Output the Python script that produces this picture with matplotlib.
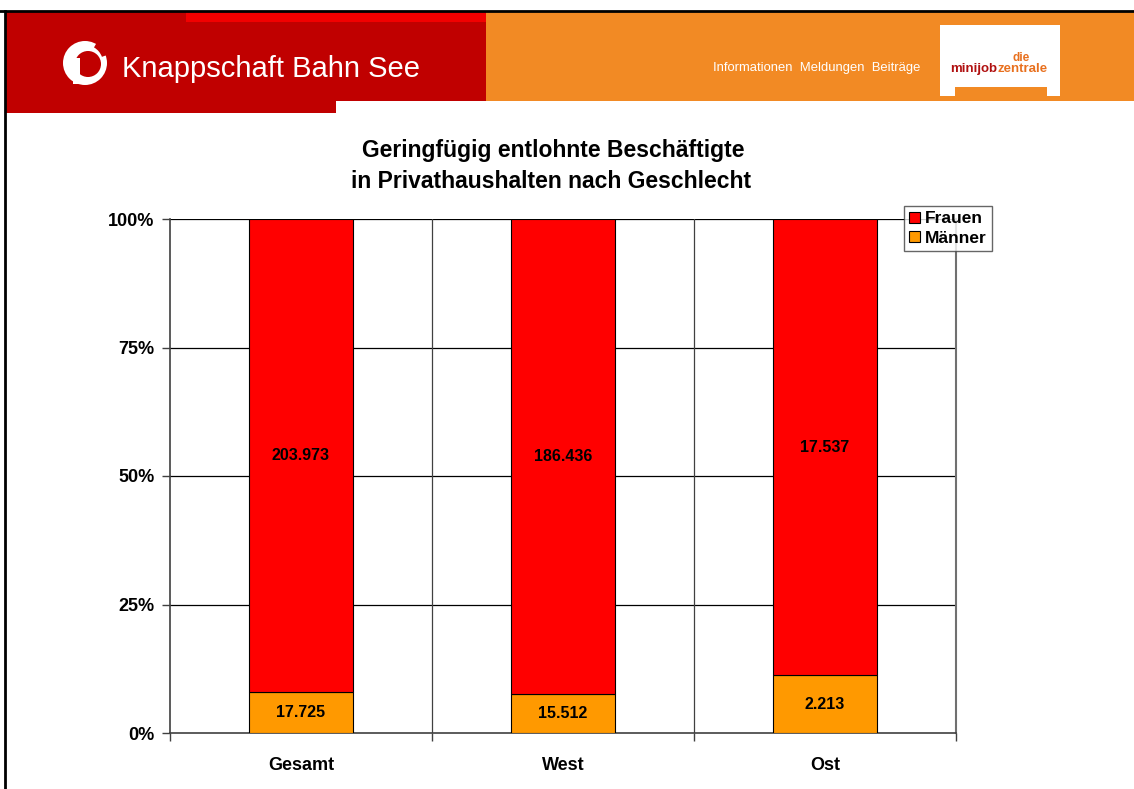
import numpy as np
import matplotlib
matplotlib.use("Agg")
import matplotlib.pyplot as plt
from matplotlib.patches import Rectangle, Polygon, Circle, Wedge
from matplotlib.ticker import FixedLocator

plt.rcParams['font.family'] = ['Liberation Sans', 'DejaVu Sans']

# data
categories = ["Gesamt", "West", "Ost"]
frauen = [203973, 186436, 17537]
maenner = [17725, 15512, 2213]
frauen_labels = ["203.973", "186.436", "17.537"]
maenner_labels = ["17.725", "15.512", "2.213"]
y_ticks = [0, 25, 50, 75, 100]
y_ticklabels = ["0%", "25%", "50%", "75%", "100%"]

RED = "#FF0000"
ORANGE = "#FF9900"

W, H = 1134, 789
fig = plt.figure(figsize=(W / 100, H / 100), dpi=100)

# ---- header / page decoration in pixel coordinates ----
deco = fig.add_axes([0, 0, 1, 1])
deco.set_xlim(0, W)
deco.set_ylim(H, 0)
deco.axis("off")

deco.add_patch(Rectangle((6, 12), 480, 89, color="#C00000", lw=0))
deco.add_patch(Rectangle((6, 100), 330, 13, color="#C00000", lw=0))
deco.add_patch(Rectangle((186, 12), 300, 10, color="#F20000", lw=0))
deco.add_patch(Rectangle((486, 12), W - 486, 89, color="#F28A24", lw=0))
deco.plot([0, W], [11, 11], color="black", lw=2)
deco.plot([5, 5], [11, H], color="black", lw=2)

# Knappschaft logo (stylised)
deco.add_patch(Circle((85, 63), 22, color="white", lw=0))
deco.add_patch(Circle((88, 64), 13, color="#C00000", lw=0))
deco.add_patch(Rectangle((73, 58), 7, 26, color="white", lw=0))
deco.add_patch(Wedge((85, 63), 23, 300, 340, width=5, color="#C00000", lw=0))
deco.text(122, 69, "Knappschaft Bahn See", color="white", fontsize=21,
          ha="left", va="center")

deco.text(713, 68, "Informationen  Meldungen  Beiträge", color="white",
          fontsize=9.4, ha="left", va="center")

# minijobzentrale box
deco.add_patch(Polygon([(940, 25), (1060, 25), (1060, 96), (1047, 96),
                        (1047, 87), (955, 87), (955, 96), (940, 96)],
                       closed=True, color="white", lw=0))
deco.text(1021, 58, "die", color="#E8701E", fontsize=8.5, fontweight="bold",
          ha="center", va="center")
deco.text(997, 69, "minijob", color="#B01010", fontsize=9.5, fontweight="bold",
          ha="right", va="center")
deco.text(997, 69, "zentrale", color="#E8701E", fontsize=9.5, fontweight="bold",
          ha="left", va="center")

# title
fig.text(553 / W, 1 - 150 / H, "Geringfügig entlohnte Beschäftigte",
         fontsize=16.5, fontweight="bold", ha="center", va="center")
fig.text(551 / W, 1 - 181 / H, "in Privathaushalten nach Geschlecht",
         fontsize=16.5, fontweight="bold", ha="center", va="center")

# ---- chart ----
ax = fig.add_axes([170 / W, 1 - 733 / H, (956 - 170) / W, (733 - 219) / H])

totals = np.array(frauen) + np.array(maenner)
m_pct = np.array(maenner) / totals * 100
f_pct = np.array(frauen) / totals * 100
x = np.arange(len(categories))

ax.bar(x, m_pct, width=0.4, color=ORANGE, edgecolor="black", lw=0.8,
       label="Männer", zorder=3)
ax.bar(x, f_pct, bottom=m_pct, width=0.4, color=RED, edgecolor="black",
       lw=0.8, label="Frauen", zorder=3)

for i in range(len(categories)):
    ax.text(x[i], m_pct[i] / 2, maenner_labels[i], ha="center", va="center",
            fontsize=11.5, fontweight="bold", zorder=4)
    ax.text(x[i], m_pct[i] + f_pct[i] / 2, frauen_labels[i], ha="center",
            va="center", fontsize=11.5, fontweight="bold", zorder=4)

ax.set_xlim(-0.5, len(categories) - 0.5)
ax.set_ylim(0, 100)
ax.set_yticks(y_ticks)
ax.set_yticklabels(y_ticklabels, fontsize=13, fontweight="bold")
ax.set_xticks(x)
ax.set_xticklabels(categories, fontsize=13, fontweight="bold")
ax.tick_params(axis="x", which="major", length=0, pad=17)
ax.xaxis.set_minor_locator(FixedLocator(np.arange(-0.5, len(categories), 1.0)))
ax.tick_params(axis="x", which="minor", length=6, width=1, color="#404040",
               direction="out")
ax.tick_params(axis="y", length=6, width=1, color="#404040", direction="out",
               pad=5)

for v in y_ticks[1:]:
    ax.axhline(v, color="black", lw=0.9, zorder=1)
for b in np.arange(0.5, len(categories) - 1, 1.0):
    ax.axvline(b, color="#404040", lw=0.9, zorder=1)

for side in ["left", "bottom"]:
    ax.spines[side].set_color("#404040")
    ax.spines[side].set_linewidth(1.2)
ax.spines["right"].set_color("#707070")
ax.spines["right"].set_linewidth(1.5)
ax.spines["top"].set_visible(False)

handles, labels = ax.get_legend_handles_labels()
leg = fig.legend(handles[::-1], labels[::-1], loc="upper left",
                 bbox_to_anchor=(904 / W, 1 - 206 / H),
                 prop={"weight": "bold", "size": 12.5}, frameon=True,
                 fancybox=False, edgecolor="#404040", borderpad=0.3,
                 handlelength=0.6, handleheight=0.6, handletextpad=0.3,
                 labelspacing=0.25, borderaxespad=0)
leg.get_frame().set_linewidth(1.0)

fig.savefig("out.png", dpi=100)
